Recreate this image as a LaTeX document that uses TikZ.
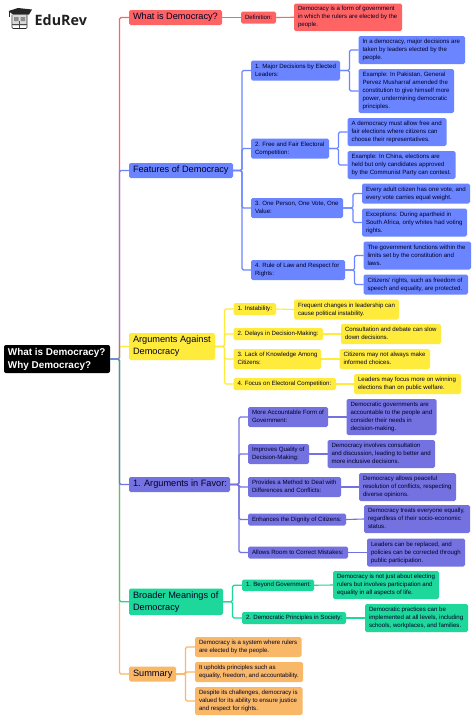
\documentclass[tikz,border=0pt]{standalone}
\usepackage{fontspec}
\setmainfont{Liberation Sans}
\newfontfamily\logofont{Open Sans}
\definecolor{cred}{HTML}{FF6464}
\definecolor{cblue}{HTML}{6A85FF}
\definecolor{cyel}{HTML}{FFEB3B}
\definecolor{cpur}{HTML}{7472E0}
\definecolor{cgrn}{HTML}{1DD79B}
\definecolor{cora}{HTML}{F9B868}
% box: name, colour, left, right, top, bottom, style, text
\newcommand{\bx}[8]{%
  \pgfmathsetmacro{\bxw}{#4-#3}\pgfmathsetmacro{\bxh}{#6-#5}\pgfmathsetmacro{\bxt}{#4-#3-8}%
  \node[#7,fill=#2,minimum width=\bxw pt,minimum height=\bxh pt,anchor=north west] (#1) at (#3,-#5)
   {\makebox[\bxt pt][l]{\begin{tabular}{@{}l@{}}#8\end{tabular}}}}
\tikzset{x=1pt,y=1pt,
  base/.style={rounded corners=1.6pt,inner sep=0pt,outer sep=0pt,text=black!85!blue},
  small/.style={base,font=\fontsize{6.1}{8}\selectfont},
  big/.style={base,font=\fontsize{9.2}{12}\selectfont},
  conn/.style={line width=1.1pt,rounded corners=1.5pt},
}
\newcommand{\elbow}[4]{\draw[conn,#1] (#2.east) -- (#2.east -| #4) |- (#3.west);}
\newcommand{\lnk}[3]{\draw[conn,#1] (#2.east) -- (#3.west);}
\begin{document}
\begin{tikzpicture}
\useasboundingbox (0,0) rectangle (474,-718);
\fill[white] (0,0) rectangle (474,-718);
\coordinate (t0) at (119.5,0);
\coordinate (tf) at (242,0);
\coordinate (tf1) at (349.5,0);
\coordinate (tf2) at (338.5,0);
\coordinate (tf3) at (353,0);
\coordinate (tf4) at (354.5,0);
\coordinate (ta) at (224.5,0);
\coordinate (tp) at (239,0);
\coordinate (tb) at (232.5,0);
\coordinate (ts) at (185.5,0);
% connectors drawn first so the boxes sit on top
\path (0,0);
% nodes
\bx{root}{black}{4}{110}{345}{373}{base,text=white,font=\fontsize{9.9}{13}\selectfont\bfseries,rounded corners=2pt}{What is Democracy?\\Why Democracy?};
\bx{d}{cred}{129}{222}{10}{25}{big}{What is Democracy?};
\bx{d1}{cred}{241}{276}{11.5}{23.5}{small}{Definition:};
\bx{d2}{cred}{294}{402}{3.5}{31}{small}{Democracy is a form of government\\in which the rulers are elected by the\\people.};
\bx{f}{cblue}{129}{233}{163}{178}{big}{Features of Democracy};
\bx{f1}{cblue}{251}{340}{60.5}{80.5}{small}{1. Major Decisions by Elected\\Leaders:};
\bx{f1a}{cblue}{358.5}{465}{36}{64}{small}{In a democracy, major decisions are\\taken by leaders elected by the\\people.};
\bx{f1b}{cblue}{358.5}{454}{69}{113}{small}{Example: In Pakistan, General\\Pervez Musharraf amended the\\constitution to give himself more\\power, undermining democratic\\principles.};
\bx{f2}{cblue}{251}{329}{138.5}{158.5}{small}{2. Free and Fair Electoral\\Competition:};
\bx{f2a}{cblue}{347.5}{446.5}{118}{146}{small}{A democracy must allow free and\\fair elections where citizens can\\choose their representatives.};
\bx{f2b}{cblue}{347.5}{455.5}{151}{179}{small}{Example: In China, elections are\\held but only candidates approved\\by the Communist Party can contest.};
\bx{f3}{cblue}{251}{343}{198}{218}{small}{3. One Person, One Vote, One\\Value:};
\bx{f3a}{cblue}{362}{470}{183.5}{203.5}{small}{Every adult citizen has one vote, and\\every vote carries equal weight.};
\bx{f3b}{cblue}{362}{467}{208.5}{236.5}{small}{Exceptions: During apartheid in\\South Africa, only whites had voting\\rights.};
\bx{f4}{cblue}{251}{345}{260}{280}{small}{4. Rule of Law and Respect for\\Rights:};
\bx{f4a}{cblue}{363.5}{471}{241.5}{269.5}{small}{The government functions within the\\limits set by the constitution and\\laws.};
\bx{f4b}{cblue}{363.5}{468}{274.5}{294.5}{small}{Citizens' rights, such as freedom of\\speech and equality, are protected.};
\bx{a}{cyel}{129}{215}{333}{360}{big}{Arguments Against\\Democracy};
\bx{a1}{cyel}{233.5}{276}{303}{315}{small}{1. Instability:};
\bx{a1a}{cyel}{294}{399}{299.5}{319.5}{small}{Frequent changes in leadership can\\cause political instability.};
\bx{a2}{cyel}{233.5}{323}{328}{340}{small}{2. Delays in Decision-Making:};
\bx{a2a}{cyel}{341}{441}{324}{344}{small}{Consultation and debate can slow\\down decisions.};
\bx{a3}{cyel}{233.5}{321}{349}{369}{small}{3. Lack of Knowledge Among\\Citizens:};
\bx{a3a}{cyel}{339.5}{430}{349}{369}{small}{Citizens may not always make\\informed choices.};
\bx{a4}{cyel}{233.5}{336}{378}{390}{small}{4. Focus on Electoral Competition:};
\bx{a4a}{cyel}{354}{461}{374}{394}{small}{Leaders may focus more on winning\\elections than on public welfare.};
\bx{p}{cpur}{129}{230}{477}{492}{big}{1. Arguments in Favor:};
\bx{p1}{cpur}{248}{328}{407}{427}{small}{More Accountable Form of\\Government:};
\bx{p1a}{cpur}{346.5}{436.5}{399}{435}{small}{Democratic governments are\\accountable to the people and\\consider their needs in\\decision-making.};
\bx{p2}{cpur}{248}{309}{444}{464}{small}{Improves Quality of\\Decision-Making:};
\bx{p2a}{cpur}{327.5}{435}{440}{468}{small}{Democracy involves consultation\\and discussion, leading to better and\\more inclusive decisions.};
\bx{p3}{cpur}{248}{341}{477}{497}{small}{Provides a Method to Deal with\\Differences and Conflicts:};
\bx{p3a}{cpur}{359}{456}{473}{501}{small}{Democracy allows peaceful\\resolution of conflicts, respecting\\diverse opinions.};
\bx{p4}{cpur}{248}{346}{513.5}{525.5}{small}{Enhances the Dignity of Citizens:};
\bx{p4a}{cpur}{364}{470}{505}{533}{small}{Democracy treats everyone equally,\\regardless of their socio-economic\\status.};
\bx{p5}{cpur}{248}{348}{546.5}{558.5}{small}{Allows Room to Correct Mistakes:};
\bx{p5a}{cpur}{367}{465}{538.5}{566.5}{small}{Leaders can be replaced, and\\policies can be corrected through\\public participation.};
\bx{b}{cgrn}{129}{223}{588.5}{615}{big}{Broader Meanings of\\Democracy};
\bx{b1}{cgrn}{242}{314}{579.5}{591}{small}{1. Beyond Government:};
\bx{b1a}{cgrn}{333}{439}{571}{599}{small}{Democracy is not just about electing\\rulers but involves participation and\\equality in all aspects of life.};
\bx{b2}{cgrn}{242}{346}{612}{624}{small}{2. Democratic Principles in Society:};
\bx{b2a}{cgrn}{365}{468}{604}{632}{small}{Democratic practices can be\\implemented at all levels, including\\schools, workplaces, and families.};
\bx{s}{cora}{129}{176}{666.5}{681.5}{big}{Summary};
\bx{s1}{cora}{195}{301.5}{637}{657}{small}{Democracy is a system where rulers\\are elected by the people.};
\bx{s2}{cora}{195}{303}{662}{682}{small}{It upholds principles such as\\equality, freedom, and accountability.};
\bx{s3}{cora}{195}{302.5}{687}{715}{small}{Despite its challenges, democracy is\\valued for its ability to ensure justice\\and respect for rights.};
% connectors
\elbow{cred}{root}{d}{t0}
\elbow{cyel}{root}{a}{t0}
\elbow{cblue}{root}{f}{t0}
\elbow{cora}{root}{s}{t0}
\elbow{cgrn}{root}{b}{t0}
\elbow{cpur}{root}{p}{t0}
\lnk{cred}{d}{d1}\lnk{cred}{d1}{d2}
\elbow{cblue}{f}{f1}{tf}\elbow{cblue}{f}{f2}{tf}\elbow{cblue}{f}{f3}{tf}\elbow{cblue}{f}{f4}{tf}
\elbow{cblue}{f1}{f1a}{tf1}\elbow{cblue}{f1}{f1b}{tf1}
\elbow{cblue}{f2}{f2a}{tf2}\elbow{cblue}{f2}{f2b}{tf2}
\elbow{cblue}{f3}{f3a}{tf3}\elbow{cblue}{f3}{f3b}{tf3}
\elbow{cblue}{f4}{f4a}{tf4}\elbow{cblue}{f4}{f4b}{tf4}
\elbow{cyel}{a}{a1}{ta}\elbow{cyel}{a}{a2}{ta}\elbow{cyel}{a}{a3}{ta}\elbow{cyel}{a}{a4}{ta}
\lnk{cyel}{a1}{a1a}\lnk{cyel}{a2}{a2a}\lnk{cyel}{a3}{a3a}\lnk{cyel}{a4}{a4a}
\elbow{cpur}{p}{p1}{tp}\elbow{cpur}{p}{p2}{tp}\elbow{cpur}{p}{p3}{tp}\elbow{cpur}{p}{p4}{tp}\elbow{cpur}{p}{p5}{tp}
\lnk{cpur}{p1}{p1a}\lnk{cpur}{p2}{p2a}\lnk{cpur}{p3}{p3a}\lnk{cpur}{p4}{p4a}\lnk{cpur}{p5}{p5a}
\elbow{cgrn}{b}{b1}{tb}\elbow{cgrn}{b}{b2}{tb}
\lnk{cgrn}{b1}{b1a}\lnk{cgrn}{b2}{b2a}
\elbow{cora}{s}{s1}{ts}\elbow{cora}{s}{s2}{ts}\elbow{cora}{s}{s3}{ts}
% logo
\node[anchor=west,inner sep=0pt,font=\logofont\fontsize{14.3}{16}\selectfont\bfseries,text=black!88] (logo) at (34.5,-20) {EduRev};
\fill[black!85] (18,-8) -- (32,-9.5) -- (29,-14.5) -- (13,-14.5) -- (8.5,-11) -- cycle;
\draw[black!85,line width=0.5pt] (9,-11) -- (9,-17);
\fill[black!15] (13,-15) rectangle (27,-26);
\draw[black!85,line width=0.7pt,rounded corners=1pt] (12,-14.5) -- (12,-28.5) -- (27,-28.5) -- (27,-14.5);
\fill[black!45] (14,-17) rectangle (18.5,-21) (20.5,-17) rectangle (25,-21);
\draw[black!70,line width=0.5pt] (19.5,-21) -- (19.5,-28) (12,-24) -- (27,-24);
\end{tikzpicture}
\end{document}
